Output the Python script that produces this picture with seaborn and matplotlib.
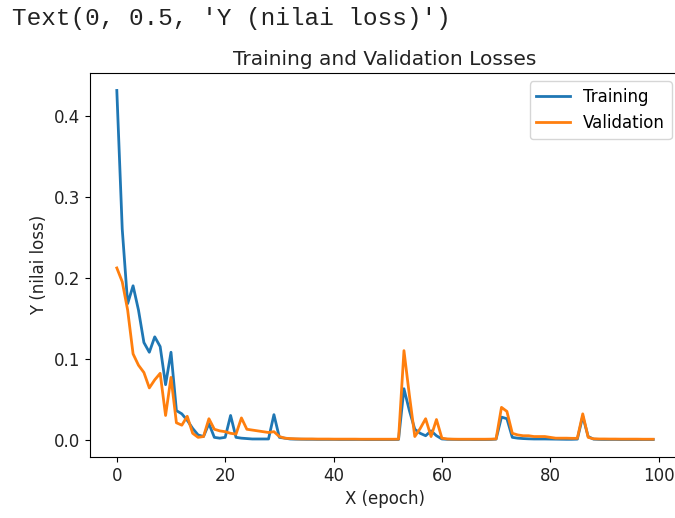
import matplotlib
matplotlib.use("Agg")
import matplotlib.pyplot as plt
import seaborn as sns
import pandas as pd
import numpy as np

epochs = list(range(100))

training = [
    0.431, 0.260, 0.168, 0.190, 0.160, 0.120, 0.108, 0.127, 0.115, 0.068,
    0.108, 0.036, 0.032, 0.024, 0.014, 0.006, 0.004, 0.020, 0.003, 0.002,
    0.003, 0.030, 0.003, 0.002, 0.0015, 0.001, 0.001, 0.001, 0.001, 0.031,
    0.003, 0.002, 0.001, 0.0008, 0.0007, 0.0006, 0.0006, 0.0005, 0.0005, 0.0005,
    0.0005, 0.0004, 0.0004, 0.0004, 0.0004, 0.0004, 0.0003, 0.0003, 0.0003, 0.0003,
    0.0003, 0.0003, 0.0004, 0.063, 0.036, 0.013, 0.008, 0.005, 0.011, 0.005,
    0.001, 0.0006, 0.0005, 0.0004, 0.0004, 0.0004, 0.0003, 0.0003, 0.0003, 0.0004,
    0.0008, 0.028, 0.026, 0.003, 0.002, 0.0015, 0.0012, 0.001, 0.001, 0.001,
    0.0009, 0.0008, 0.0007, 0.0006, 0.0006, 0.0008, 0.029, 0.004, 0.0008, 0.0005,
    0.0004, 0.0004, 0.0004, 0.0003, 0.0003, 0.0003, 0.0003, 0.0003, 0.0003, 0.0003,
]

validation = [
    0.212, 0.195, 0.160, 0.106, 0.092, 0.083, 0.064, 0.074, 0.082, 0.030,
    0.077, 0.021, 0.018, 0.029, 0.008, 0.003, 0.004, 0.026, 0.013, 0.011,
    0.010, 0.008, 0.007, 0.027, 0.013, 0.012, 0.011, 0.010, 0.009, 0.010,
    0.004, 0.002, 0.0015, 0.0012, 0.001, 0.001, 0.001, 0.0009, 0.0009, 0.0009,
    0.0008, 0.0008, 0.0008, 0.0008, 0.0008, 0.0007, 0.0007, 0.0007, 0.0007, 0.0007,
    0.0007, 0.0007, 0.0008, 0.110, 0.055, 0.004, 0.014, 0.026, 0.004, 0.025,
    0.002, 0.001, 0.0008, 0.0007, 0.0007, 0.0007, 0.0007, 0.0007, 0.0007, 0.0008,
    0.001, 0.040, 0.035, 0.008, 0.006, 0.005, 0.005, 0.004, 0.004, 0.004,
    0.003, 0.002, 0.002, 0.002, 0.0018, 0.0018, 0.032, 0.003, 0.0012, 0.001,
    0.001, 0.0009, 0.0009, 0.0008, 0.0008, 0.0008, 0.0008, 0.0007, 0.0007, 0.0007,
]

series_names = ["Training", "Validation"]
colors = ["#1f77b4", "#ff7f0e"]

df = pd.DataFrame({
    "epoch": epochs + epochs,
    "loss": training + validation,
    "series": [series_names[0]] * len(epochs) + [series_names[1]] * len(epochs),
})

W, H = 675, 518
fig = plt.figure(figsize=(W / 100, H / 100), dpi=100)
ax = fig.add_axes([90 / W, 61 / H, 590 / W, 384 / H])

sns.lineplot(data=df, x="epoch", y="loss", hue="series", hue_order=series_names,
             palette=colors, linewidth=2.0, ax=ax)

ax.set_title("Training and Validation Losses", fontsize=14.5, color="#222222")
ax.set_xlabel("X (epoch)", fontsize=12, color="#222222")
ax.set_ylabel("Y (nilai loss)", fontsize=12, color="#222222")
ax.tick_params(labelsize=12, labelcolor="#222222")
ax.set_xticks([0, 20, 40, 60, 80, 100])
ax.set_yticks([0.0, 0.1, 0.2, 0.3, 0.4])
ax.set_yticklabels(["0.0", "0.1", "0.2", "0.3", "0.4"])
leg = ax.legend(loc="upper right", fontsize=12)
leg.set_title(None)

fig.text(12 / W, 1 - 18 / H, "Text(0, 0.5, 'Y (nilai loss)')",
         family="Liberation Mono", fontsize=17.6, va="center", ha="left", color="#222222")

fig.savefig("out.png", dpi=100)
